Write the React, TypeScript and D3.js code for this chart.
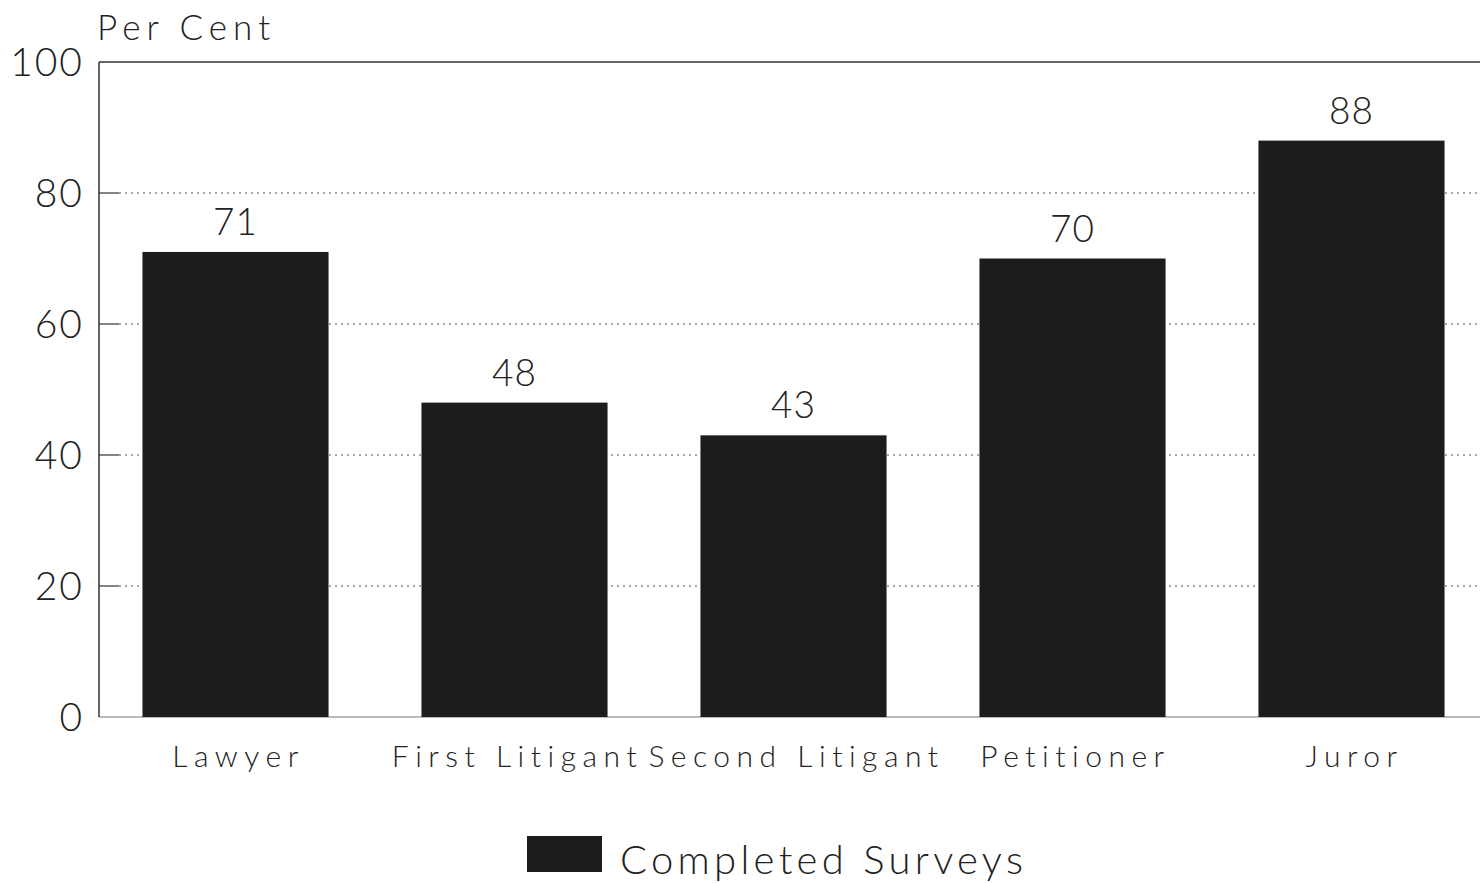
import React from "react";
import * as d3 from "d3";

// Share of completed surveys by respondent group
const categories = ["Lawyer", "First Litigant", "Second Litigant", "Petitioner", "Juror"];
const completed = [71, 48, 43, 70, 88];
const yTicks = [0, 20, 40, 60, 80, 100];
const yAxisTitle = "Per Cent";
const seriesName = "Completed Surveys";

const W = 1480;
const H = 883;
const margin = { left: 99, top: 62, bottom: 166 };
const bandLeft = 96;
const plotRight = 1495;
const FONT = "Lato, 'DejaVu Sans', sans-serif";
const BAR = "#1c1c1c";
const INK = "#222";

export default function App() {
  const x = d3
    .scaleBand<string>()
    .domain(categories)
    .range([bandLeft, bandLeft + 1395])
    .paddingInner(0.333)
    .paddingOuter(0.1665);
  const y = d3.scaleLinear().domain([0, 100]).range([H - margin.bottom, margin.top]);

  return (
    <svg
      width={W}
      height={H}
      style={{ position: "fixed", left: 0, top: 0, background: "#fff" }}
      fontFamily={FONT}
      fontWeight={300}
    >
      {/* gridlines */}
      {yTicks.filter((t) => t > 0 && t < 100).map((t) => (
        <g key={t}>
          <line x1={margin.left} x2={margin.left + 20} y1={y(t)} y2={y(t)} stroke="#333" strokeWidth={1.2} />
          <line
            x1={margin.left + 20}
            x2={plotRight}
            y1={y(t)}
            y2={y(t)}
            stroke="#555"
            strokeWidth={1}
            strokeDasharray="2,4"
          />
        </g>
      ))}
      {/* frame */}
      <line x1={margin.left} x2={plotRight} y1={y(100)} y2={y(100)} stroke="#333" strokeWidth={1.5} />
      <line x1={margin.left} x2={plotRight} y1={y(0)} y2={y(0)} stroke="#777" strokeWidth={1.2} />
      <line x1={margin.left} x2={margin.left} y1={y(100)} y2={y(0)} stroke="#333" strokeWidth={1.5} />

      {/* y tick labels */}
      {yTicks.map((t) => (
        <text
          key={t}
          x={margin.left - 15}
          y={y(t) + 14}
          textAnchor="end"
          fontSize={39}
          fill={INK}
          letterSpacing={2}
        >
          {t}
        </text>
      ))}
      <text x={97} y={40} fontSize={35} fill={INK} letterSpacing={6}>
        {yAxisTitle}
      </text>

      {/* bars */}
      {categories.map((c, i) => (
        <g key={c}>
          <rect
            x={x(c)!}
            y={y(completed[i])}
            width={x.bandwidth()}
            height={y(0) - y(completed[i])}
            fill={BAR}
          />
          <text
            x={x(c)! + x.bandwidth() / 2}
            y={y(completed[i]) - 17}
            textAnchor="middle"
            fontSize={37}
            fill={INK}
            letterSpacing={1}
          >
            {completed[i]}
          </text>
          <text
            x={x(c)! + x.bandwidth() / 2 + 3}
            y={767}
            textAnchor="middle"
            fontSize={30}
            fill={INK}
            letterSpacing={6.5}
          >
            {c}
          </text>
        </g>
      ))}

      {/* legend */}
      <rect x={527} y={836} width={75} height={36} fill={BAR} />
      <text x={620} y={874} fontSize={40} fill={INK} letterSpacing={4.3}>
        {seriesName}
      </text>
    </svg>
  );
}
